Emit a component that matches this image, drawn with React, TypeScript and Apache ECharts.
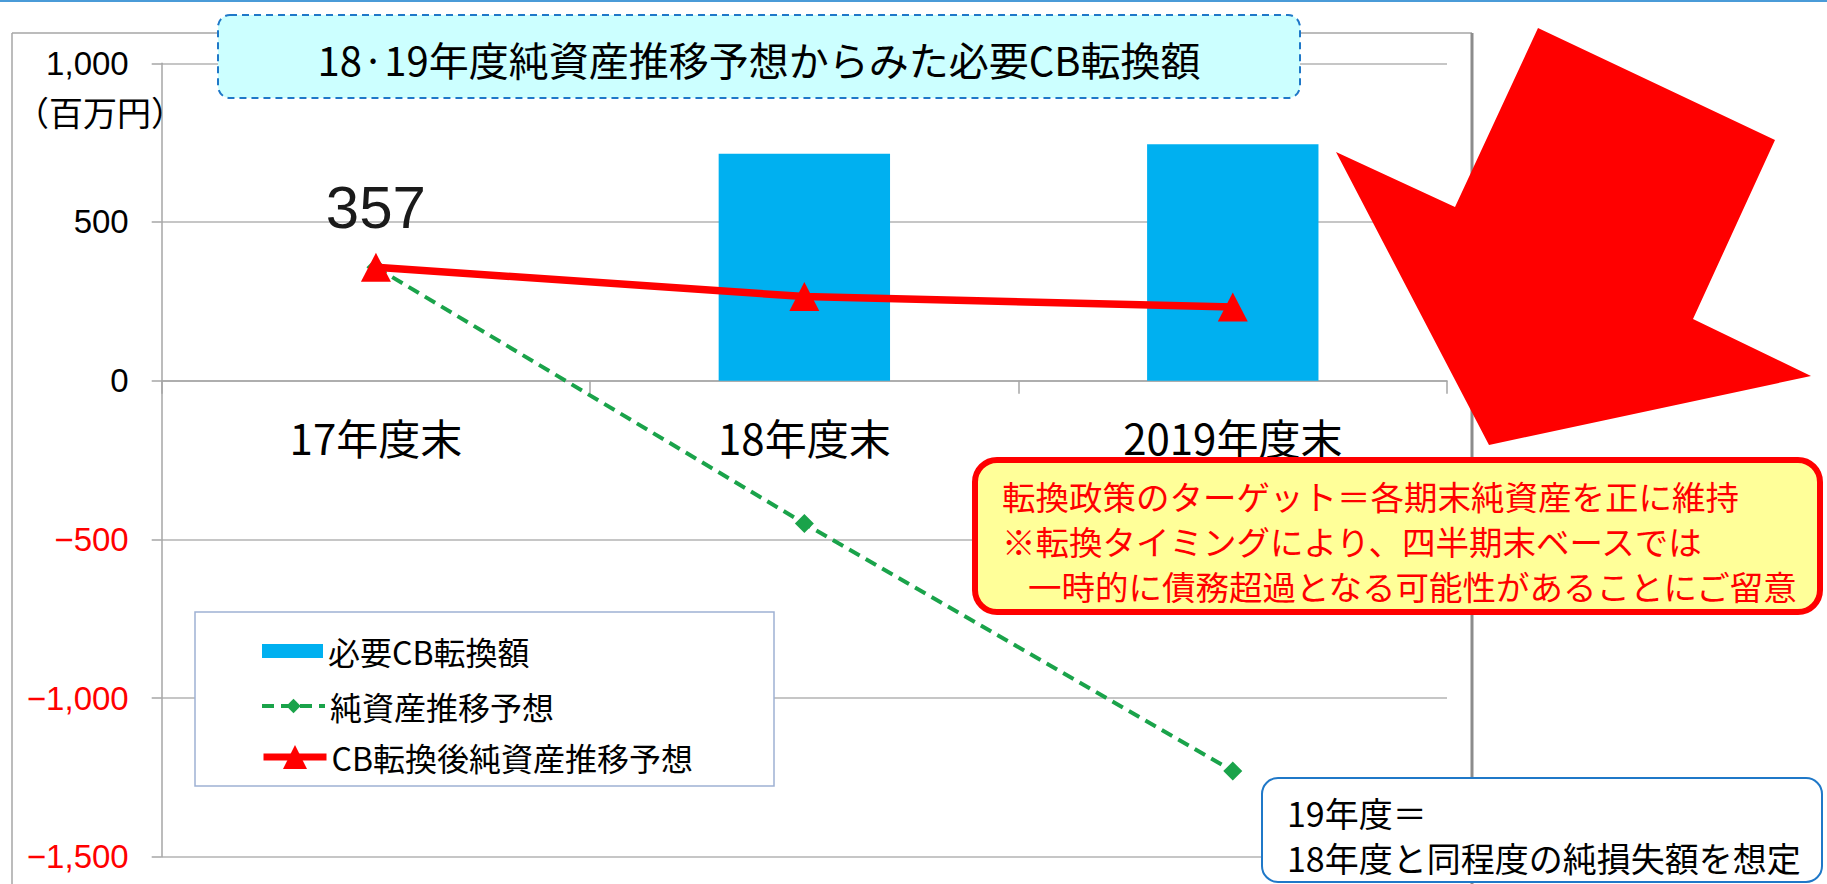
import React, { useEffect, useRef } from "react";
import * as echarts from "echarts";

// ---- data ----
const categories = ["17年度末", "18年度末", "2019年度末"];
const seriesNames = ["必要CB転換額", "純資産推移予想", "CB転換後純資産推移予想"];
const cbConversion: (number | null)[] = [null, 715, 745];
const netAssetForecast = [357, -450, -1230];
const netAssetAfterCB = [357, 265, 232];
const yMin = -1500;
const yMax = 1000;
const yInterval = 500;

const titleText = "18·19年度純資産推移予想からみた必要CB転換額";
const unitText = "（百万円）";
const noteLines = [
  "転換政策のターゲット＝各期末純資産を正に維持",
  "※転換タイミングにより、四半期末ベースでは",
  "一時的に債務超過となる可能性があることにご留意",
];
const assumptionLines = ["19年度＝", "18年度と同程度の純損失額を想定"];

const CJK = "'Noto Sans CJK JP', 'Noto Sans', sans-serif";
const LAT = "'Liberation Sans', Arial, 'Noto Sans CJK JP', sans-serif";

// plot geometry
const GRID_TOP = 63.3;
const GRID_BOTTOM_Y = 856.7;
const GRID_LEFT = 161.7;
const GRID_RIGHT_X = 1447;
const zeroY = GRID_TOP + ((yMax - 0) / (yMax - yMin)) * (GRID_BOTTOM_Y - GRID_TOP);

function txt(text: string, x: number, y: number, fontSize: number, fill: string, align = "left", z = 20, family = CJK) {
  return {
    type: "text",
    x,
    y,
    z,
    silent: true,
    style: {
      text,
      fontSize,
      fontFamily: family,
      fill,
      align,
      textAlign: align,
      verticalAlign: "middle",
      textVerticalAlign: "middle",
    },
  };
}

export default function App() {
  const ref = useRef<HTMLDivElement>(null);

  useEffect(() => {
    if (!ref.current) return;
    const chart = echarts.init(ref.current, null, { renderer: "svg" });

    const legendText = { fontSize: 32, fontFamily: CJK, color: "#000" };

    const option: any = {
      animation: false,
      backgroundColor: "#ffffff",
      grid: {
        left: GRID_LEFT,
        right: 1827 - GRID_RIGHT_X,
        top: GRID_TOP,
        bottom: 884 - GRID_BOTTOM_Y,
        containLabel: false,
        outerBoundsMode: "none",
      },
      xAxis: {
        type: "category",
        data: categories,
        boundaryGap: true,
        offset: zeroY - GRID_BOTTOM_Y,
        axisLine: { show: true, onZero: false, lineStyle: { color: "#a6a6a6", width: 1.5 } },
        axisTick: { show: true, length: 13, alignWithLabel: false, lineStyle: { color: "#a6a6a6", width: 1.5 } },
        axisLabel: { margin: 35, fontSize: 42, fontFamily: CJK, color: "#000" },
        splitLine: { show: false },
      },
      yAxis: {
        type: "value",
        min: yMin,
        max: yMax,
        interval: yInterval,
        axisLine: { show: true, lineStyle: { color: "#a6a6a6", width: 1.5 } },
        axisTick: { show: true, length: 10, lineStyle: { color: "#a6a6a6", width: 1.5 } },
        splitLine: { show: true, lineStyle: { color: "#b3b3b3", width: 1.5 } },
        axisLabel: {
          margin: 33,
          formatter: (v: number) => {
            const s = Math.abs(v).toLocaleString("en-US");
            return v < 0 ? `{neg|−${s}}` : `{pos|${s}}`;
          },
          rich: {
            neg: { color: "#ff0000", fontSize: 33, fontFamily: LAT },
            pos: { color: "#000000", fontSize: 33, fontFamily: LAT },
          },
        },
      },
      legend: [
        {
          data: [{ name: seriesNames[0], icon: "rect" }],
          left: 262,
          top: 635,
          orient: "vertical",
          itemWidth: 61,
          itemHeight: 14,
          padding: 0,
          selectedMode: false,
          textStyle: legendText,
        },
        {
          data: [seriesNames[1]],
          left: 260,
          top: 690,
          orient: "vertical",
          itemWidth: 63,
          itemHeight: 18,
          padding: 0,
          selectedMode: false,
          lineStyle: { width: 4 },
          textStyle: legendText,
        },
        {
          data: [seriesNames[2]],
          left: 260,
          top: 741,
          orient: "vertical",
          itemWidth: 63,
          itemHeight: 30,
          padding: 0,
          selectedMode: false,
          lineStyle: { width: 7 },
          textStyle: legendText,
        },
      ],
      series: [
        {
          name: seriesNames[0],
          type: "bar",
          data: cbConversion.map((v) => (v === null ? "-" : v)),
          barWidth: "40%",
          itemStyle: { color: "#00b0f0" },
          z: 2,
        },
        {
          name: seriesNames[1],
          type: "line",
          data: netAssetForecast,
          symbol: "diamond",
          symbolSize: 19,
          lineStyle: { color: "#1aa34a", width: 4, type: [12, 7] },
          itemStyle: { color: "#1aa34a" },
          z: 3,
        },
        {
          name: seriesNames[2],
          type: "line",
          data: netAssetAfterCB.map((v, i) =>
            i === 0
              ? {
                  value: v,
                  label: {
                    show: true,
                    position: "top",
                    distance: 15,
                    fontSize: 60,
                    fontFamily: LAT,
                    color: "#1a1a1a",
                    formatter: "{c}",
                  },
                }
              : v
          ),
          symbol: "triangle",
          symbolSize: [30, 29],
          lineStyle: { color: "#ff0000", width: 7.5 },
          itemStyle: { color: "#ff0000" },
          z: 4,
        },
      ],
      graphic: {
        elements: [
          // top rule
          { type: "line", z: 1, silent: true, shape: { x1: 0, y1: 1, x2: 1827, y2: 1 }, style: { stroke: "#4a9bd8", lineWidth: 2 } },
          // chart frame
          { type: "line", z: 1, silent: true, shape: { x1: 12, y1: 33, x2: 12, y2: 884 }, style: { stroke: "#a6a6a6", lineWidth: 1.5 } },
          { type: "line", z: 1, silent: true, shape: { x1: 12, y1: 33, x2: 1472, y2: 33 }, style: { stroke: "#a6a6a6", lineWidth: 1.5 } },
          { type: "line", z: 1, silent: true, shape: { x1: 1472, y1: 33, x2: 1472, y2: 884 }, style: { stroke: "#8c8c8c", lineWidth: 3 } },
          // unit label
          txt(unitText, 15, 111, 34, "#000", "left", 5),
          // legend box
          { type: "rect", z: 3, silent: true, shape: { x: 195, y: 612, width: 579, height: 174 }, style: { fill: "#ffffff", stroke: "#9eb1d3", lineWidth: 1.5 } },
          // title box
          { type: "rect", z: 10, silent: true, shape: { x: 218, y: 15, width: 1082, height: 83, r: 12 }, style: { fill: "#ccffff", stroke: "#1f78c8", lineWidth: 2, lineDash: [7, 5] } },
          txt(titleText, 759, 59, 40, "#000", "center", 11),
          // note box
          { type: "rect", z: 10, silent: true, shape: { x: 975, y: 460, width: 845, height: 152, r: 22 }, style: { fill: "#ffff99", stroke: "#ff0000", lineWidth: 6 } },
          txt(noteLines[0], 1002, 495, 33.5, "#ff0000", "left", 11),
          txt(noteLines[1], 1002, 540, 33.5, "#ff0000", "left", 11),
          txt(noteLines[2], 1028, 585, 33.5, "#ff0000", "left", 11),
          // assumption box
          { type: "rect", z: 10, silent: true, shape: { x: 1262, y: 778, width: 560, height: 104, r: 16 }, style: { fill: "#ffffff", stroke: "#1f78c8", lineWidth: 2 } },
          txt(assumptionLines[0], 1287, 812, 34, "#000", "left", 11),
          txt(assumptionLines[1], 1287, 857, 34, "#000", "left", 11),
          // big arrow
          {
            type: "polygon",
            z: 12,
            silent: true,
            shape: {
              points: [
                [1538, 28],
                [1775, 140],
                [1693, 319],
                [1811, 376],
                [1489, 445],
                [1336, 152],
                [1455, 207],
              ],
            },
            style: { fill: "#ff0000" },
          },
        ],
      },
    };

    chart.setOption(option);
    return () => {
      chart.dispose();
    };
  }, []);

  return <div ref={ref} style={{ position: "fixed", left: 0, top: 0, width: 1827, height: 884 }} />;
}
